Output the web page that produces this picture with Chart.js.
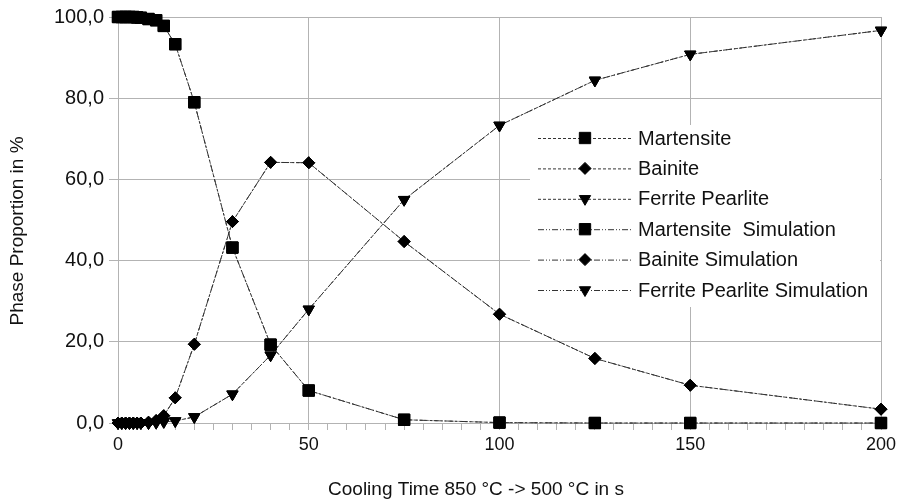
<!DOCTYPE html>
<html>
<head>
<meta charset="utf-8">
<script src="https://cdn.jsdelivr.net/npm/chart.js@4/dist/chart.umd.min.js"></script>
<style>
  html, body { margin: 0; padding: 0; background: #fff; }
  #wrap { width: 903px; height: 504px; }
</style>
</head>
<body>
<div id="wrap"><canvas id="myChart" width="903" height="504"></canvas></div>
<script>
  // cooling time in s
  const coolingTime = [0, 1, 2, 3, 4, 5, 6, 8, 10, 12, 15, 20, 30, 40, 50, 75, 100, 125, 150, 200]

  // measured phase proportions in %
  const martensite = [100, 100, 100, 100, 100, 99.9, 99.8, 99.5, 99.2, 97.8, 93.3, 79.0, 43.2, 19.3, 8.0, 0.8, 0.1, 0, 0, 0]
  const bainite = [0, 0, 0, 0, 0, 0, 0, 0.2, 0.6, 1.8, 6.2, 19.4, 49.6, 64.2, 64.1, 44.7, 26.8, 15.9, 9.3, 3.4]
  const ferritePearlite = [0, 0, 0, 0, 0, 0, 0, 0, 0.1, 0.3, 0.5, 1.5, 7.1, 16.7, 28.0, 55.0, 73.3, 84.4, 90.8, 96.7]

  // simulated phase proportions in % (lie on top of the measured ones)
  const martensiteSim = [100, 100, 100, 100, 100, 99.9, 99.8, 99.5, 99.2, 97.8, 93.3, 79.0, 43.2, 19.3, 8.0, 0.8, 0.1, 0, 0, 0]
  const bainiteSim = [0, 0, 0, 0, 0, 0, 0, 0.2, 0.6, 1.8, 6.2, 19.4, 49.6, 64.2, 64.1, 44.7, 26.8, 15.9, 9.3, 3.4]
  const ferritePearliteSim = [0, 0, 0, 0, 0, 0, 0, 0, 0.1, 0.3, 0.5, 1.5, 7.1, 16.7, 28.0, 55.0, 73.3, 84.4, 90.8, 96.7]

  const seriesNames = ['Martensite', 'Bainite', 'Ferrite Pearlite', 'Martensite  Simulation', 'Bainite Simulation', 'Ferrite Pearlite Simulation']

  const yTicks = [0, 20, 40, 60, 80, 100]
  const xLabelTicks = [0, 50, 100, 150, 200]

  const xTitle = 'Cooling Time 850 °C -> 500 °C in s'
  const yTitle = 'Phase Proportion in %'

  const FONT = '"Liberation Sans", Arial, sans-serif'
  const GRID = '#b3b3b3'
  const LINE = '#333'
  const TEXT = '#111'

  const dashExp = [3, 2]
  const dashSim = [6, 2, 1, 2, 1, 2]

  const markers = [
    { pointStyle: 'rect', radius: 8, rotation: 0 },
    { pointStyle: 'rectRot', radius: 6, rotation: 0 },
    { pointStyle: 'triangle', radius: 6.5, rotation: 180 }
  ]

  const toPoints = vals => vals.map((v, i) => ({ x: coolingTime[i], y: v }))

  const makeSet = (label, vals, marker, dash) => ({
    label,
    data: toPoints(vals),
    clip: false,
    borderColor: LINE,
    borderWidth: 1,
    borderDash: dash,
    pointStyle: marker.pointStyle,
    pointRadius: marker.radius,
    pointRotation: marker.rotation,
    pointBackgroundColor: '#000',
    pointBorderColor: '#000',
    pointBorderWidth: 1,
    tension: 0,
    fill: false
  })

  const datasets = [
    makeSet(seriesNames[0], martensite, markers[0], dashExp),
    makeSet(seriesNames[1], bainite, markers[1], dashExp),
    makeSet(seriesNames[2], ferritePearlite, markers[2], dashExp),
    makeSet(seriesNames[3], martensiteSim, markers[0], dashSim),
    makeSet(seriesNames[4], bainiteSim, markers[1], dashSim),
    makeSet(seriesNames[5], ferritePearliteSim, markers[2], dashSim)
  ]

  // legend box floating inside the plot area, plus the two axis titles
  const insideLegend = {
    id: 'insideLegend',
    afterDraw (chart) {
      const { ctx, chartArea } = chart
      const x0 = chartArea.right - 351
      const y0 = chartArea.top + 108
      ctx.save()
      ctx.fillStyle = '#fff'
      ctx.fillRect(x0, y0, 350, 182)
      ctx.font = '20px ' + FONT
      ctx.textBaseline = 'middle'
      chart.data.datasets.forEach((ds, i) => {
        const y = y0 + 13 + i * 30.4
        ctx.strokeStyle = LINE
        ctx.lineWidth = 1
        ctx.setLineDash(ds.borderDash)
        ctx.beginPath()
        ctx.moveTo(x0 + 8, y + 0.5)
        ctx.lineTo(x0 + 102, y + 0.5)
        ctx.stroke()
        ctx.setLineDash([])
        ctx.fillStyle = '#000'
        ctx.strokeStyle = '#000'
        Chart.helpers.drawPoint(ctx, {
          pointStyle: ds.pointStyle,
          radius: ds.pointRadius,
          rotation: ds.pointRotation,
          borderWidth: 1
        }, x0 + 55, y)
        ctx.fillStyle = TEXT
        ctx.fillText(ds.label, x0 + 108, y + 1)
      })

      // axis titles
      ctx.font = '19px ' + FONT
      ctx.fillStyle = TEXT
      ctx.textAlign = 'center'
      ctx.fillText(xTitle, 476, 490)
      ctx.translate(18, 231)
      ctx.rotate(-Math.PI / 2)
      ctx.fillText(yTitle, 0, 0)
      ctx.restore()
    }
  }

  const ctx = document.getElementById('myChart')
  // eslint-disable-next-line no-unused-vars
  const myChart = new Chart(ctx, {
    type: 'line',
    data: { datasets },
    plugins: [insideLegend],
    options: {
      responsive: false,
      animation: false,
      layout: { padding: { top: 16, right: 22, left: 0, bottom: 0 } },
      plugins: {
        legend: { display: false },
        tooltip: { enabled: false }
      },
      scales: {
        x: {
          type: 'linear',
          min: 0,
          max: 200,
          afterFit (scale) { scale.height = 81 },
          border: { color: GRID, width: 1 },
          grid: {
            color: c => (xLabelTicks.includes(c.tick.value) ? GRID : 'rgba(0,0,0,0)'),
            tickColor: GRID,
            tickLength: 7,
            lineWidth: 1
          },
          ticks: {
            stepSize: 5,
            autoSkip: false,
            maxRotation: 0,
            padding: 4,
            color: TEXT,
            font: { family: FONT, size: 18 },
            callback: v => (xLabelTicks.includes(v) ? String(v) : '')
          }
        },
        y: {
          min: 0,
          max: 100,
          afterFit (scale) { scale.width = 118 },
          afterBuildTicks (scale) { scale.ticks = yTicks.map(v => ({ value: v })) },
          border: { color: GRID, width: 1 },
          grid: { color: GRID, tickColor: GRID, tickLength: 9, lineWidth: 1 },
          ticks: {
            padding: 5,
            color: TEXT,
            font: { family: FONT, size: 20 },
            callback: v => v.toFixed(1).replace('.', ',')
          }
        }
      }
    }
  })
</script>
</body>
</html>
